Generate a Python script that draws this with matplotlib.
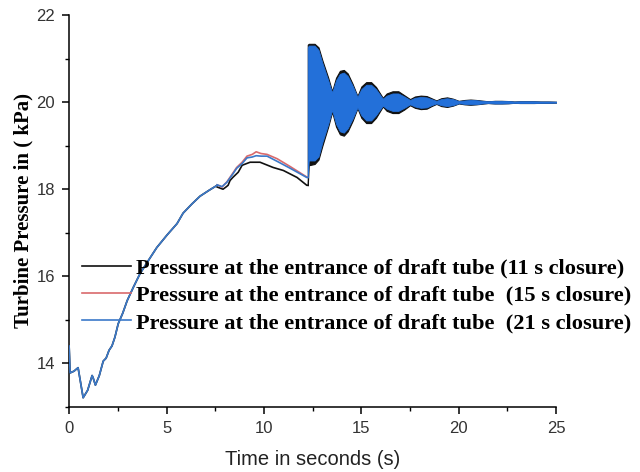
import matplotlib
matplotlib.use("Agg")
import matplotlib.pyplot as plt
from matplotlib.ticker import MultipleLocator

# ---- data ----
# smooth part before the valve closes (black = 11 s, red = 15 s, blue = 21 s)
time_rise = [0.0, 0.05, 0.25, 0.46, 0.72, 0.95, 1.18, 1.23, 1.35, 1.55, 1.75,
             1.9, 2.05, 2.2, 2.35, 2.52, 2.75, 2.98, 3.3, 3.64, 4.05, 4.5,
             5.03, 5.54, 5.85, 6.3, 6.72, 7.2, 7.6]
p_rise = [14.4, 13.78, 13.82, 13.9, 13.21, 13.38, 13.72, 13.67, 13.5, 13.72,
          14.05, 14.12, 14.3, 14.4, 14.6, 14.91, 15.15, 15.44, 15.75, 16.06,
          16.35, 16.66, 16.95, 17.21, 17.45, 17.66, 17.84, 17.98, 18.09]

time_11s = [7.6, 7.9, 8.05, 8.16, 8.26, 8.4, 8.68, 8.88, 9.29, 9.8, 10.47,
            11.0, 11.7, 12.2, 12.25]
p_11s = [18.05, 18.0, 18.05, 18.09, 18.2, 18.27, 18.39, 18.55, 18.62, 18.62,
         18.5, 18.43, 18.27, 18.09, 18.09]

time_slow = [7.6, 7.85, 8.1, 8.42, 8.6, 8.88, 9.13, 9.4, 9.6, 9.85, 10.16,
             10.68, 11.35, 12.2, 12.25]
p_15s = [18.1, 18.05, 18.17, 18.38, 18.5, 18.62, 18.76, 18.8, 18.86, 18.82,
         18.8, 18.7, 18.52, 18.28, 18.28]
p_21s = [18.1, 18.06, 18.16, 18.36, 18.48, 18.59, 18.72, 18.74, 18.77, 18.76,
         18.76, 18.64, 18.48, 18.27, 18.27]

# oscillation after closure: envelope of the dense pressure swings
time_osc = [12.25, 12.3, 12.6, 12.8, 13.0, 13.3, 13.5,
            13.7, 13.9, 14.1, 14.3, 14.55, 14.8,
            15.0, 15.25, 15.5, 15.75, 16.1,
            16.3, 16.6, 16.9, 17.2, 17.5,
            17.75, 18.05, 18.35, 18.6, 18.85,
            19.1, 19.4, 19.7, 20.0,
            20.3, 20.6, 20.9, 21.2, 21.5,
            21.85, 22.2, 22.55, 22.85, 23.15, 23.5, 23.85, 24.2, 24.6, 25.0]
osc_top_21s = [21.25, 21.3, 21.3, 21.2, 20.9, 20.5, 20.22,
               20.5, 20.65, 20.68, 20.6, 20.38, 20.12,
               20.3, 20.4, 20.4, 20.3, 20.08,
               20.15, 20.2, 20.2, 20.13, 20.05,
               20.1, 20.12, 20.11, 20.07, 20.03,
               20.07, 20.09, 20.07, 20.025,
               20.04, 20.05, 20.045, 20.03, 20.02,
               20.03, 20.03, 20.025, 20.015, 20.02, 20.02, 20.02, 20.015, 20.015, 20.01]
osc_low_21s = [18.27, 18.66, 18.66, 18.75, 19.08, 19.5, 19.82,
               19.5, 19.33, 19.3, 19.4, 19.62, 19.88,
               19.7, 19.58, 19.58, 19.7, 19.92,
               19.85, 19.8, 19.8, 19.87, 19.95,
               19.9, 19.87, 19.88, 19.93, 19.97,
               19.93, 19.91, 19.93, 19.975,
               19.96, 19.95, 19.955, 19.97, 19.98,
               19.97, 19.97, 19.975, 19.985, 19.98, 19.98, 19.98, 19.985, 19.985, 19.99]
osc_top_11s = [21.32, 21.34, 21.34, 21.26, 20.96, 20.56, 20.25,
               20.56, 20.72, 20.74, 20.66, 20.42, 20.14,
               20.36, 20.46, 20.46, 20.35, 20.1,
               20.2, 20.25, 20.25, 20.16, 20.07,
               20.13, 20.15, 20.14, 20.09, 20.04,
               20.09, 20.11, 20.08, 20.03,
               20.05, 20.06, 20.05, 20.035, 20.02,
               20.03, 20.03, 20.025, 20.015, 20.02, 20.02, 20.02, 20.015, 20.015, 20.01]
osc_low_11s = [18.09, 18.55, 18.58, 18.68, 19.0, 19.44, 19.78,
               19.44, 19.26, 19.23, 19.33, 19.57, 19.86,
               19.64, 19.52, 19.52, 19.64, 19.9,
               19.8, 19.75, 19.75, 19.83, 19.93,
               19.87, 19.84, 19.85, 19.91, 19.96,
               19.91, 19.89, 19.92, 19.97,
               19.95, 19.94, 19.95, 19.965, 19.98,
               19.97, 19.97, 19.975, 19.985, 19.98, 19.98, 19.98, 19.985, 19.985, 19.99]

labels = ["Pressure at the entrance of draft tube (11 s closure)",
          "Pressure at the entrance of draft tube  (15 s closure)",
          "Pressure at the entrance of draft tube  (21 s closure)"]
black = "#111111"
red = "#d96a6c"
blue = "#3b79c9"
band_blue = "#2370d9"

fig = plt.figure(figsize=(6.4, 4.72), dpi=100)
ax = fig.add_axes([0.108, 0.138, 0.761, 0.830])

# black (11 s)
ax.plot(time_rise, p_rise, color=black, lw=1.2, zorder=2)
ax.plot(time_11s, p_11s, color=black, lw=1.2, zorder=2, label=labels[0])
ax.fill_between(time_osc, osc_low_11s, osc_top_11s, color=black, lw=0.8, zorder=2)
# red (15 s)
ax.plot(time_slow, p_15s, color=red, lw=1.2, zorder=3, label=labels[1])
# blue (21 s)
ax.plot(time_rise, p_rise, color=blue, lw=1.2, zorder=4)
ax.plot(time_slow, p_21s, color=blue, lw=1.2, zorder=4, label=labels[2])
ax.fill_between(time_osc, osc_low_21s, osc_top_21s, color=band_blue, lw=0.6, zorder=4)

ax.set_xlim(0, 25)
ax.set_ylim(13, 22)
ax.xaxis.set_major_locator(MultipleLocator(5))
ax.xaxis.set_minor_locator(MultipleLocator(2.5))
ax.yaxis.set_major_locator(MultipleLocator(2))
ax.yaxis.set_minor_locator(MultipleLocator(1))
ax.set_yticks([14, 16, 18, 20, 22])
for side in ["top", "right"]:
    ax.spines[side].set_visible(False)
for side in ["left", "bottom"]:
    ax.spines[side].set_linewidth(1.1)
ax.tick_params(which="major", direction="out", length=5, width=1.1,
               labelsize=12, labelcolor="#333333", pad=5)
ax.tick_params(which="minor", direction="out", length=3, width=1.0)
for lab in ax.get_xticklabels() + ax.get_yticklabels():
    lab.set_family("Liberation Sans")

ax.set_xlabel("Time in seconds (s)", family="Liberation Sans", fontsize=14.5,
              color="#222222", labelpad=10)
ax.set_ylabel("Turbine Pressure in ( kPa)", family="Liberation Serif",
              fontweight="bold", fontsize=15, labelpad=2)

fig.legend(loc="upper left", bbox_to_anchor=(0.128, 0.453), frameon=False,
           borderpad=0, borderaxespad=0, handlelength=2.2, handletextpad=0.22,
           labelspacing=0.29,
           prop={"family": "Liberation Serif", "weight": "bold", "size": 16.1})

fig.savefig("out.png", dpi=100)
